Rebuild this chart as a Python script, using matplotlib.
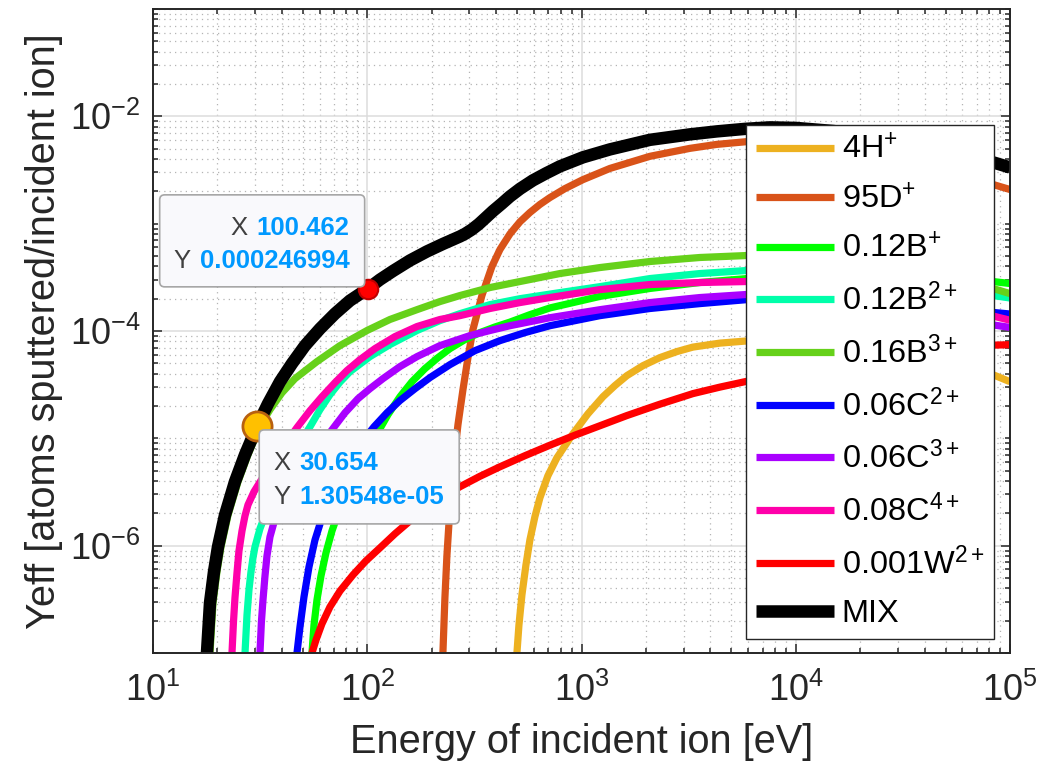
import matplotlib
matplotlib.use("Agg")
import matplotlib.pyplot as plt
from matplotlib.patches import FancyBboxPatch
from matplotlib.transforms import IdentityTransform
from matplotlib.ticker import FixedLocator, NullFormatter, LogLocator

plt.rcParams['font.family'] = ['Liberation Sans', 'DejaVu Sans']
plt.rcParams['mathtext.fontset'] = 'custom'
plt.rcParams['mathtext.rm'] = 'Liberation Sans'
plt.rcParams['mathtext.it'] = 'Liberation Sans:italic'
plt.rcParams['mathtext.bf'] = 'Liberation Sans:bold'
plt.rcParams['axes.unicode_minus'] = False

# ---- effective sputtering yield of each plasma ion species (energy in eV) ----
h1_E = [499.6, 510.5, 527.2, 550.4, 574.3, 606.0, 639.5, 696.9, 767.8, 911.8, 1071, 1259, 1432, 1629,
        1934, 2322, 2787, 3311, 4424, 5787, 1.0e4, 2.0e4, 3.0e4, 5.0e4, 7.0e4, 8.32e4, 1.0e5]
h1_Y = [1.0e-7, 1.82e-7, 3.48e-7, 6.62e-7, 1.13e-6, 1.86e-6, 2.79e-6, 4.48e-6, 6.59e-6, 1.10e-5,
        1.69e-5, 2.44e-5, 3.10e-5, 3.84e-5, 4.75e-5, 5.65e-5, 6.43e-5, 7.08e-5, 7.71e-5, 8.05e-5,
        8.1e-5, 7.2e-5, 6.3e-5, 5.3e-5, 4.45e-5, 3.92e-5, 3.37e-5]

d1_E = [225.5, 230.4, 235.4, 243.2, 253.9, 265.1, 279.7, 295.2, 311.3, 342.9, 381.9, 416.2, 463.4, 516,
        574.3, 639.5, 712.2, 836.7, 1015, 1357, 2085, 3204, 4285, 5914, 7568, 1.0e4, 1.5e4, 2.0e4,
        3.0e4, 5.0e4, 7.0e4, 8.32e4, 1.0e5]
d1_Y = [1.0e-7, 3.26e-7, 8.04e-7, 2.26e-6, 6.31e-6, 1.34e-5, 2.84e-5, 5.65e-5, 1.03e-4, 2.14e-4,
        3.99e-4, 5.74e-4, 8.02e-4, 1.04e-3, 1.27e-3, 1.51e-3, 1.75e-3, 2.12e-3, 2.57e-3, 3.27e-3,
        4.24e-3, 5.03e-3, 5.48e-3, 5.81e-3, 5.97e-3, 5.95e-3, 5.6e-3, 5.2e-3, 4.4e-3, 3.3e-3,
        2.65e-3, 2.32e-3, 2.08e-3]

b1_E = [55.2, 56.41, 58.25, 60.81, 64.17, 68.44, 73.79, 80.42, 88.58, 98.6, 111.0, 124.9, 142.1, 161.7,
        185.9, 213.8, 243.2, 285.6, 335.7, 394.4, 463.4, 574.3, 712.2, 1219, 2085, 3569, 5914, 1.0e4,
        2.0e4, 3.0e4, 5.0e4, 7.0e4, 8.32e4, 1.0e5]
b1_Y = [1.0e-7, 1.82e-7, 3.12e-7, 5.22e-7, 8.57e-7, 1.37e-6, 2.11e-6, 3.18e-6, 4.78e-6, 7.18e-6,
        1.10e-5, 1.66e-5, 2.44e-5, 3.37e-5, 4.46e-5, 5.65e-5, 6.85e-5, 8.31e-5, 9.66e-5, 1.09e-4,
        1.21e-4, 1.42e-4, 1.64e-4, 2.10e-4, 2.49e-4, 2.83e-4, 3.08e-4, 3.3e-4, 3.45e-4, 3.4e-4,
        3.2e-4, 3.0e-4, 2.89e-4, 2.77e-4]

b2_E = [26.88, 27.46, 28.05, 28.66, 29.28, 29.92, 31.57, 33.68, 36.31, 39.56, 43.58, 48.53, 54.03,
        60.16, 66.99, 74.58, 83.04, 102.9, 127.6, 170.6, 218.4, 270.8, 373.8, 516, 793, 1219, 2085,
        3569, 5914, 1.0e4, 2.0e4, 3.0e4, 5.0e4, 7.0e4, 8.32e4, 1.0e5]
b2_Y = [1.0e-7, 2.26e-7, 3.87e-7, 5.70e-7, 7.69e-7, 9.75e-7, 1.44e-6, 2.02e-6, 2.85e-6, 4.11e-6,
        6.05e-6, 9.10e-6, 1.28e-5, 1.85e-5, 2.55e-5, 3.34e-5, 4.18e-5, 5.77e-5, 7.47e-5, 1.01e-4,
        1.25e-4, 1.45e-4, 1.76e-4, 2.00e-4, 2.28e-4, 2.59e-4, 3.08e-4, 3.43e-4, 3.66e-4, 3.7e-4,
        3.45e-4, 3.15e-4, 2.65e-4, 2.3e-4, 2.14e-4, 2.03e-4]

b3_E = [18.45, 19.05, 19.88, 20.77, 22.39, 24.93, 27.75, 31.57, 35.16, 40.0, 45.99, 58.25, 74.58, 99.7,
        127.6, 170.6, 218.4, 270.8, 373.8, 516, 793, 1219, 2085, 3569, 5914, 1.0e4, 2.0e4, 3.0e4,
        5.0e4, 7.0e4, 8.32e4, 1.0e5]
b3_Y = [1.0e-7, 2.92e-7, 5.70e-7, 9.75e-7, 1.92e-6, 3.94e-6, 7.03e-6, 1.305e-5, 1.85e-5, 2.66e-5,
        3.60e-5, 5.19e-5, 7.31e-5, 1.01e-4, 1.28e-4, 1.58e-4, 1.88e-4, 2.14e-4, 2.54e-4, 2.89e-4,
        3.43e-4, 3.90e-4, 4.44e-4, 4.84e-4, 5.05e-4, 5.05e-4, 4.6e-4, 4.1e-4, 3.4e-4, 2.75e-4,
        2.49e-4, 2.23e-4]

c2_E = [46.99, 48.53, 50.66, 53.46, 57.02, 61.45, 66.99, 74.58, 83.04, 94.47, 107.5, 123.6, 142.1,
        167.0, 196.2, 243.2, 318.2, 416.2, 544.5, 712.2, 1219, 2085, 3569, 5914, 1.0e4, 2.0e4, 3.0e4,
        5.0e4, 7.0e4, 8.32e4, 1.0e5]
c2_Y = [1.0e-7, 1.75e-7, 3.33e-7, 6.34e-7, 1.13e-6, 1.82e-6, 2.85e-6, 4.38e-6, 6.31e-6, 9.29e-6,
        1.28e-5, 1.73e-5, 2.25e-5, 2.90e-5, 3.68e-5, 4.86e-5, 6.56e-5, 8.13e-5, 9.66e-5, 1.12e-4,
        1.39e-4, 1.62e-4, 1.80e-4, 1.96e-4, 2.05e-4, 2.05e-4, 1.95e-4, 1.75e-4, 1.6e-4, 1.49e-4,
        1.44e-4]

c3_E = [31.57, 32.06, 32.61, 33.32, 34.04, 35.16, 37.10, 39.56, 43.58, 48.53, 54.03, 60.16, 68.44, 78.7,
        90.5, 102.9, 118.4, 142.1, 170.6, 218.4, 301.5, 373.8, 463.4, 712.2, 1219, 2085, 3569, 5914,
        1.0e4, 2.0e4, 3.0e4, 5.0e4, 7.0e4, 8.32e4, 1.0e5]
c3_Y = [1.0e-7, 1.95e-7, 3.12e-7, 5.22e-7, 8.04e-7, 1.21e-6, 1.78e-6, 2.40e-6, 3.39e-6, 4.68e-6,
        6.31e-6, 8.53e-6, 1.20e-5, 1.73e-5, 2.34e-5, 2.90e-5, 3.60e-5, 4.66e-5, 5.77e-5, 7.31e-5,
        9.06e-5, 1.01e-4, 1.12e-4, 1.33e-4, 1.58e-4, 1.84e-4, 2.05e-4, 2.19e-4, 2.25e-4, 2.15e-4,
        1.95e-4, 1.6e-4, 1.3e-4, 1.14e-4, 1.08e-4]

c4_E = [23.37, 23.75, 24.13, 24.66, 25.19, 26.02, 26.88, 27.75, 29.6, 32.27, 35.92, 40.86, 46.99,
        54.03, 61.45, 70.68, 80.42, 92.47, 108.6, 134.7, 170.6, 218.4, 270.8, 373.8, 516, 712.2, 1219,
        2085, 3569, 5914, 1.0e4, 2.0e4, 3.0e4, 5.0e4, 7.0e4, 8.32e4, 1.0e5]
c4_Y = [1.0e-7, 1.95e-7, 3.26e-7, 5.57e-7, 8.93e-7, 1.37e-6, 1.90e-6, 2.40e-6, 3.18e-6, 4.20e-6,
        5.79e-6, 8.53e-6, 1.26e-5, 1.81e-5, 2.44e-5, 3.30e-5, 4.28e-5, 5.41e-5, 6.85e-5, 8.87e-5,
        1.10e-4, 1.28e-4, 1.39e-4, 1.62e-4, 1.84e-4, 2.05e-4, 2.43e-4, 2.71e-4, 2.83e-4, 2.89e-4,
        2.9e-4, 2.7e-4, 2.45e-4, 2.0e-4, 1.6e-4, 1.38e-4, 1.26e-4]

w2_E = [55.2, 57.63, 61.45, 66.99, 74.58, 85.77, 98.6, 114.6, 134.7, 158.2, 206.9, 270.8, 335.7, 416.2,
        544.5, 712.2, 931.6, 1219, 1629, 2322, 3311, 4424, 5787, 1.0e4, 2.0e4, 3.0e4, 5.0e4, 7.0e4,
        8.32e4, 1.0e5]
w2_Y = [1.0e-7, 1.32e-7, 1.87e-7, 2.69e-7, 3.78e-7, 5.34e-7, 7.22e-7, 9.53e-7, 1.29e-6, 1.70e-6,
        2.56e-6, 3.54e-6, 4.43e-6, 5.43e-6, 6.89e-6, 8.63e-6, 1.07e-5, 1.31e-5, 1.63e-5, 2.08e-5,
        2.61e-5, 3.00e-5, 3.37e-5, 4.2e-5, 5.4e-5, 6.1e-5, 6.9e-5, 7.3e-5, 7.38e-5, 7.45e-5]

mix_E = [17.86, 18.45, 19.26, 20.11, 21.67, 24.13, 26.88, 30.65, 34.41, 39.14, 44.53, 51.21, 60.16,
         70.68, 83.04, 100.46, 114.6, 131.8, 158.2, 189.9, 225.5, 270.8, 285.6, 308.1, 332.0, 358.0,
         386, 425, 463, 516, 593, 682, 793, 1015, 1357, 2085, 3204, 4285, 5787, 7568, 1.0e4, 1.5e4,
         2.0e4, 3.0e4, 5.0e4, 7.0e4, 8.32e4, 1.0e5]
mix_Y = [1.0e-7, 2.92e-7, 5.70e-7, 9.75e-7, 1.92e-6, 3.94e-6, 7.03e-6, 1.305e-5, 2.10e-5, 3.37e-5,
         4.97e-5, 7.31e-5, 1.05e-4, 1.45e-4, 1.92e-4, 2.47e-4, 3.01e-4, 3.62e-4, 4.54e-4, 5.51e-4,
         6.47e-4, 7.60e-4, 8.02e-4, 8.83e-4, 9.93e-4, 1.14e-3, 1.31e-3, 1.54e-3, 1.79e-3, 2.11e-3,
         2.53e-3, 2.94e-3, 3.42e-3, 4.15e-3, 4.92e-3, 6.04e-3, 6.79e-3, 7.24e-3, 7.64e-3, 7.89e-3,
         7.8e-3, 7.3e-3, 6.8e-3, 6.0e-3, 4.8e-3, 4.15e-3, 3.73e-3, 3.34e-3]

labels = [r'4H$^{+}$', r'95D$^{+}$', r'0.12B$^{+}$', r'0.12B$^{2+}$', r'0.16B$^{3+}$',
          r'0.06C$^{2+}$', r'0.06C$^{3+}$', r'0.08C$^{4+}$', r'0.001W$^{2+}$', 'MIX']
colors = ['#EDB120', '#D95319', '#00FF00', '#00FFAA', '#66D11A',
          '#0000FF', '#AA00FF', '#FF00AA', '#FF0000', '#000000']
energies = [h1_E, d1_E, b1_E, b2_E, b3_E, c2_E, c3_E, c4_E, w2_E, mix_E]
yields = [h1_Y, d1_Y, b1_Y, b2_Y, b3_Y, c2_Y, c3_Y, c4_Y, w2_Y, mix_Y]

# data-tip readouts on the MIX curve
tip1 = (100.462, 0.000246994)
tip2 = (30.654, 1.30548e-05)

W, H = 1061, 771
fig = plt.figure(figsize=(W / 100, H / 100), dpi=100)
ax = fig.add_axes([153 / W, 1 - 653 / H, 857 / W, 644 / H])

AX_C = '#262626'
for E, Y, c, lab in zip(energies, yields, colors, labels):
    lw = 9.0 if lab == 'MIX' else 5.2
    ax.plot(E, Y, color=c, lw=lw, label=lab, solid_capstyle='butt', solid_joinstyle='round')

ax.set_xscale('log')
ax.set_yscale('log')
ax.set_xlim(10, 1e5)
ax.set_ylim(1e-7, 1e-1)

ax.xaxis.set_major_locator(FixedLocator([1e1, 1e2, 1e3, 1e4, 1e5]))
ax.xaxis.set_minor_locator(LogLocator(base=10, subs=range(2, 10), numticks=20))
ax.yaxis.set_major_locator(FixedLocator([1e-6, 1e-4, 1e-2]))
ymin = [m * 10.0 ** k for k in range(-7, 0) for m in range(1, 10)
        if not (m == 1 and k in (-6, -4, -2))]
ax.yaxis.set_minor_locator(FixedLocator(ymin))
ax.xaxis.set_minor_formatter(NullFormatter())
ax.yaxis.set_minor_formatter(NullFormatter())

ax.set_axisbelow(True)
ax.grid(which='minor', color='#B4B4B4', lw=0.9, ls=(0, (1, 3.3)))
ax.grid(which='major', color='#DCDCDC', lw=1.1, ls='-')

for s in ax.spines.values():
    s.set_color(AX_C)
    s.set_linewidth(1.4)
ax.tick_params(which='both', direction='in', top=True, right=True, color=AX_C,
               labelcolor=AX_C, labelsize=26, width=1.1)
ax.tick_params(which='major', length=6.5)
ax.tick_params(axis='x', which='major', pad=14)
ax.tick_params(axis='y', which='major', pad=9)
ax.tick_params(which='minor', length=3.8)

ax.set_xlabel('Energy of incident ion [eV]', fontsize=28.6, color=AX_C, labelpad=10)
ax.set_ylabel('Yeff [atoms sputtered/incident ion]', fontsize=28.6, color=AX_C, labelpad=5)

leg = ax.legend(loc='upper left', bbox_to_anchor=(593 / 857, 528 / 644), borderaxespad=0,
                fontsize=23.4, frameon=True, fancybox=False, framealpha=1.0,
                edgecolor=AX_C, handlelength=2.4, handletextpad=0.25, borderpad=0.3,
                labelspacing=0.56)
leg.get_frame().set_linewidth(1.0)
leg.set_zorder(4)

# data-tip markers
ax.plot([tip1[0]], [tip1[1]], 'o', ms=14, mfc='#FF0000', mec='#C00000', mew=1.5, zorder=6)
ax.plot([tip2[0]], [tip2[1]], 'o', ms=21, mfc='#FFC000', mec='#B8600F', mew=2.0, zorder=6)

renderer = fig.canvas.get_renderer()
LBL_C = '#404040'
VAL_C = '#0099FF'
TFS = 18.5


def tip_box(x0, y0, w, h):
    box = FancyBboxPatch((x0, y0), w, h, boxstyle='round,pad=0,rounding_size=5',
                         transform=IdentityTransform(), fc='#F9F9FC', ec='#A6A6A6', lw=1.2,
                         zorder=7)
    fig.add_artist(box)


def tip_text(x, y, s, color, weight, ha):
    t = fig.text(x, y, s, transform=IdentityTransform(), color=color, fontsize=TFS,
                 fontweight=weight, ha=ha, va='baseline', zorder=8)
    return t


# readout placed up-left of its point, right-aligned values
px, py = ax.transData.transform(tip1)
tip_box(px - 208, py + 2, 205, 92)
for dy, lab, val in ((54, 'X', '100.462'), (21, 'Y', '0.000246994')):
    t = tip_text(px - 18, py + dy, val, VAL_C, 'bold', 'right')
    bb = t.get_window_extent(renderer)
    tip_text(bb.x0 - 9, py + dy, lab, LBL_C, 'normal', 'right')

# readout placed down-right of its point, left-aligned columns
px, py = ax.transData.transform(tip2)
tip_box(px + 2, py - 98, 200, 94)
for dy, lab, val in ((-44, 'X', '30.654'), (-78, 'Y', '1.30548e-05')):
    tip_text(px + 16, py + dy, lab, LBL_C, 'normal', 'left')
    tip_text(px + 42, py + dy, val, VAL_C, 'bold', 'left')

fig.savefig('out.png', dpi=100, facecolor='white')
